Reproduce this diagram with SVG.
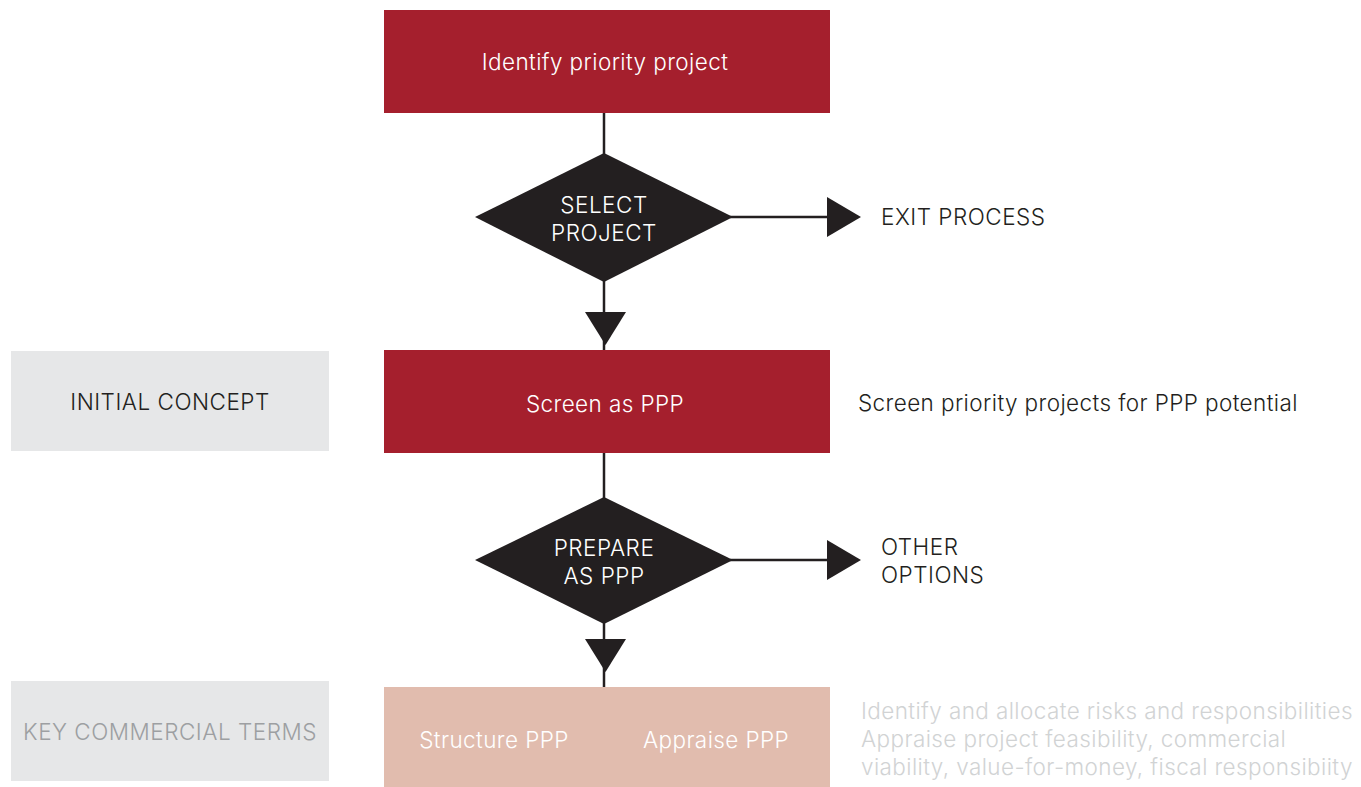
<svg xmlns="http://www.w3.org/2000/svg" width="1361" height="787" viewBox="0 0 1361 787">
<style>
text{font-family:Inter,"Open Sans","Liberation Sans",sans-serif;font-size:22.5px;font-weight:300;font-variant-ligatures:none;letter-spacing:0.4px}
.c{letter-spacing:0.5px}
.w{fill:#ffffff}
.d{fill:#231f20}
.g{fill:#9d9fa2}
.lg{fill:#d1d3d4}
.red{fill:#a51f2d}
.dia{fill:#231f20}
.gray{fill:#e6e7e8}
.pink{fill:#e1bcae}
.ln{stroke:#231f20;stroke-width:2.5;fill:none}
.ah{fill:#231f20}
.m{text-anchor:middle}
</style>
<rect width="1361" height="787" fill="#ffffff"/>
<g id="connectors">
<line class="ln" x1="604" y1="113" x2="604" y2="155"/>
<line class="ln" x1="604" y1="280" x2="604" y2="350"/>
<polygon class="ah" points="585,312 626,312 605.5,345"/>
<line class="ln" x1="730" y1="217" x2="828" y2="217"/>
<polygon class="ah" points="827,197 861,217 827,237"/>
<line class="ln" x1="604" y1="453" x2="604" y2="499"/>
<line class="ln" x1="604" y1="622" x2="604" y2="687"/>
<polygon class="ah" points="585,639 626,639 605.5,672"/>
<line class="ln" x1="730" y1="560" x2="828" y2="560"/>
<polygon class="ah" points="827,540 861,560 827,580"/>
</g>
<g id="identify">
<rect class="red" x="384" y="10" width="446" height="103"/>
<text class="w m" x="605" y="70">Identify priority project</text>
</g>
<g id="select">
<polygon class="dia" points="604,153 733,217 604,282 475,217"/>
<text class="w m c"><tspan x="604" y="213">SELECT</tspan><tspan x="604" y="241">PROJECT</tspan></text>
</g>
<g id="exit">
<text class="d c" x="881" y="225">EXIT PROCESS</text>
</g>
<g id="initial-concept">
<rect class="gray" x="11" y="351" width="318" height="100"/>
<text class="d m c" x="170" y="410">INITIAL CONCEPT</text>
</g>
<g id="screen">
<rect class="red" x="384" y="350" width="446" height="103"/>
<text class="w m" x="605" y="412">Screen as PPP</text>
</g>
<g id="screen-note">
<text class="d" x="858" y="411">Screen priority projects for PPP potential</text>
</g>
<g id="prepare">
<polygon class="dia" points="604,497 733,560 604,624 475,560"/>
<text class="w m c"><tspan x="604" y="556">PREPARE</tspan><tspan x="604" y="584">AS PPP</tspan></text>
</g>
<g id="other">
<text class="d c"><tspan x="881" y="555">OTHER</tspan><tspan x="881" y="583">OPTIONS</tspan></text>
</g>
<g id="key-terms">
<rect class="gray" x="11" y="681" width="318" height="100"/>
<text class="g m c" x="170" y="740">KEY COMMERCIAL TERMS</text>
</g>
<g id="structure-appraise">
<rect class="pink" x="384" y="687" width="446" height="100"/>
<text class="w m" x="494" y="748">Structure PPP</text>
<text class="w m" x="716" y="748">Appraise PPP</text>
</g>
<g id="terms-note">
<text class="lg"><tspan x="861" y="719">Identify and allocate risks and responsibilities</tspan><tspan x="861" y="747">Appraise project feasibility, commercial</tspan><tspan x="861" y="775">viability, value-for-money, fiscal responsibiity</tspan></text>
</g>
</svg>
